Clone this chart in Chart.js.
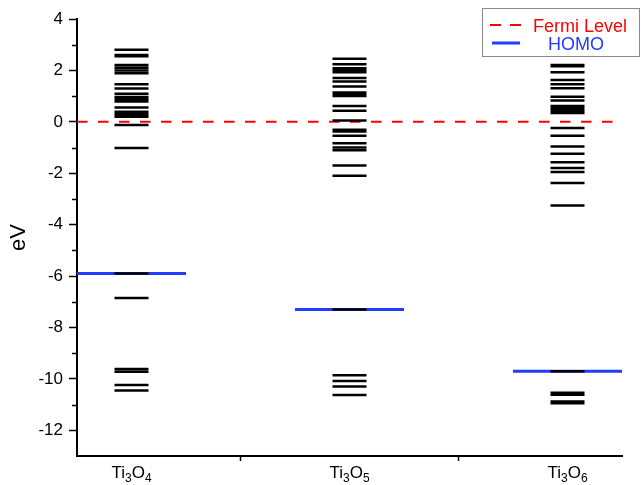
<!DOCTYPE html>
<html><head><meta charset="utf-8">
<script src="https://cdn.jsdelivr.net/npm/chart.js@4/dist/chart.umd.min.js"></script>
<style>html,body{margin:0;padding:0;background:#fff}#wrap{width:641px;height:485px}</style>
</head><body><div id="wrap"><canvas id="c" width="641" height="485"></canvas></div>
<script>
// ---- data ----
const categories = ['Ti3O4', 'Ti3O5', 'Ti3O6'];
const levelsTi3O4 = [2.80, 2.60, 2.55, 2.21, 2.10, 2.00, 1.89, 1.46, 1.30, 1.09, 0.97, 0.87, 0.79, 0.56, 0.39, 0.29, 0.20, -0.12, -1.02, -5.90, -6.85, -9.62, -9.72, -10.24, -10.45];
const levelsTi3O5 = [2.45, 2.24, 2.08, 2.00, 1.93, 1.70, 1.57, 1.37, 1.14, 1.05, 1.00, 0.62, 0.43, 0.05, -0.31, -0.38, -0.54, -0.83, -1.00, -1.11, -1.70, -2.10, -7.30, -9.86, -10.08, -10.30, -10.63];
const levelsTi3O6 = [2.21, 2.16, 1.93, 1.63, 1.46, 1.31, 0.98, 0.83, 0.62, 0.52, 0.42, 0.34, -0.24, -0.54, -0.96, -1.24, -1.57, -1.80, -1.95, -2.38, -3.26, -9.70, -10.54, -10.62, -10.88, -10.95];
const homoValues = [-5.90, -7.30, -9.70];
const fermiLevel = 0;
const yTickValues = [-12, -10, -8, -6, -4, -2, 0, 2, 4];
const yMinorTickValues = [-11, -9, -7, -5, -3, -1, 1, 3];
const xSeparatorTicks = [1.5, 2.5];
const seriesNames = ['Fermi Level', 'HOMO'];

// ---- build ----
const allLevels = [levelsTi3O4, levelsTi3O5, levelsTi3O6];
const LEVEL_HW = 0.078, HOMO_HW = 0.25, XMIN = 0.75, XMAX = 3.25;
function segs(vals, center, hw) {
  const d = [];
  vals.forEach(v => { d.push({x: center - hw, y: v}, {x: center + hw, y: v}, {x: center, y: null}); });
  return d;
}
const levelData = [];
allLevels.forEach((arr, i) => levelData.push(...segs(arr, i + 1, LEVEL_HW)));
const homoData = [];
homoValues.forEach((v, i) => homoData.push(...segs([v], i + 1, HOMO_HW)));
const fermiData = [{x: XMIN, y: fermiLevel}, {x: XMAX, y: fermiLevel}];

Chart.defaults.font.family = 'Arial, "Liberation Sans", sans-serif';
Chart.defaults.color = '#000';

const BLUE = '#1f3cff', RED = '#ff0000';

const extras = {
  id: 'extras',
  afterDraw(chart) {
    const ctx = chart.ctx, xs = chart.scales.x, ys = chart.scales.y;
    ctx.save();
    // minor y ticks
    ctx.strokeStyle = '#000'; ctx.lineWidth = 1.5;
    const ax = chart.chartArea.left;
    yMinorTickValues.forEach(v => {
      const y = Math.round(ys.getPixelForValue(v)) + 0.5;
      ctx.beginPath(); ctx.moveTo(ax - 5, y); ctx.lineTo(ax, y); ctx.stroke();
    });
    // category labels with subscripts
    ctx.fillStyle = '#000'; ctx.textBaseline = 'alphabetic'; ctx.textAlign = 'left';
    const big = '17px Arial, "Liberation Sans", sans-serif';
    const small = '12px Arial, "Liberation Sans", sans-serif';
    categories.forEach((name, i) => {
      const parts = name.match(/[A-Za-z]+|\d+/g);
      let w = 0;
      parts.forEach(p => { ctx.font = /\d/.test(p) ? small : big; w += ctx.measureText(p).width; });
      let x = xs.getPixelForValue(i + 1) - w / 2;
      const base = 478;
      parts.forEach(p => {
        const sub = /\d/.test(p);
        ctx.font = sub ? small : big;
        ctx.fillText(p, x, sub ? base + 4 : base);
        x += ctx.measureText(p).width;
      });
    });
    // legend
    ctx.fillStyle = '#fff';
    ctx.fillRect(482.5, 8.5, 157, 48);
    ctx.strokeStyle = '#8a8a8a'; ctx.lineWidth = 1;
    ctx.strokeRect(482.5, 8.5, 157, 48);
    ctx.strokeStyle = RED; ctx.lineWidth = 2; ctx.setLineDash([11, 9]);
    ctx.beginPath(); ctx.moveTo(490, 25); ctx.lineTo(522, 25); ctx.stroke();
    ctx.setLineDash([]);
    ctx.strokeStyle = BLUE; ctx.lineWidth = 3;
    ctx.beginPath(); ctx.moveTo(492, 43); ctx.lineTo(520, 43); ctx.stroke();
    ctx.font = '18px Arial, "Liberation Sans", sans-serif';
    ctx.fillStyle = RED; ctx.fillText(seriesNames[0], 533, 31.5);
    ctx.fillStyle = BLUE; ctx.fillText(seriesNames[1], 548, 50);
    ctx.restore();
  }
};

new Chart(document.getElementById('c'), {
  type: 'line',
  data: {
    datasets: [
      {label: 'levels', data: levelData, borderColor: '#000', borderWidth: 2.5, pointRadius: 0, spanGaps: false, order: 0, borderCapStyle: 'butt'},
      {label: seriesNames[1], data: homoData, borderColor: BLUE, borderWidth: 3, pointRadius: 0, spanGaps: false, order: 1, borderCapStyle: 'butt'},
      {label: seriesNames[0], data: fermiData, borderColor: RED, borderWidth: 2, borderDash: [10.5, 10.5], pointRadius: 0, order: 2, borderCapStyle: 'butt'}
    ]
  },
  options: {
    responsive: false, animation: false,
    layout: {padding: {top: 19, right: 19, left: 0, bottom: 0}},
    plugins: {legend: {display: false}, tooltip: {enabled: false}},
    elements: {line: {tension: 0}},
    scales: {
      x: {
        type: 'linear', min: XMIN, max: XMAX,
        afterBuildTicks: s => { s.ticks = xSeparatorTicks.map(v => ({value: v})); },
        afterFit: s => { s.height = 29; },
        ticks: {display: false},
        grid: {drawOnChartArea: false, drawTicks: true, tickLength: 5, tickWidth: 1.5, tickColor: '#000'},
        border: {display: true, color: '#000', width: 2}
      },
      y: {
        type: 'linear', min: -13, max: 4,
        afterBuildTicks: s => { s.ticks = yTickValues.map(v => ({value: v})); },
        afterFit: s => { s.width = 77; },
        ticks: {font: {size: 17}, color: '#000', padding: 6},
        grid: {drawOnChartArea: false, drawTicks: true, tickLength: 8, tickWidth: 1.5, tickColor: '#000'},
        border: {display: true, color: '#000', width: 2},
        title: {display: true, text: 'eV', font: {size: 22, lineHeight: 1.2}, color: '#000', padding: {top: 6, bottom: 0}}
      }
    }
  },
  plugins: [extras]
});
</script></body></html>
